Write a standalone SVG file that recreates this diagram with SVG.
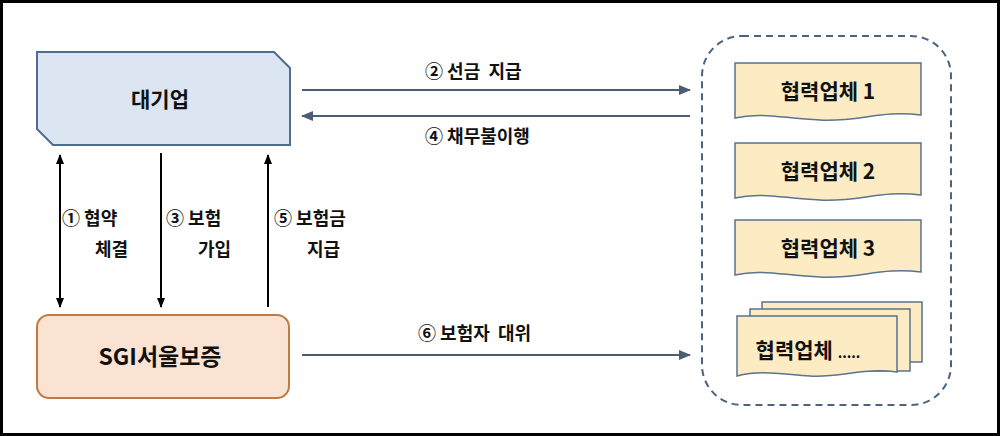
<svg xmlns="http://www.w3.org/2000/svg" width="1000" height="436" viewBox="0 0 1000 436">
<style>
text{font-family:"Noto Sans CJK KR","Liberation Sans",sans-serif;font-weight:bold;fill:#111;white-space:pre}
.n{font-size:21px;text-anchor:middle}
.l{font-size:18px}
.doc{fill:#fdebc3;stroke:#5a7390;stroke-width:1.5}
.c{stroke:#000;stroke-width:2;fill:none}
.h{stroke:#4a5d75;stroke-width:2;fill:none}
</style>
<defs>
<marker id="a" markerWidth="10" markerHeight="8" refX="9" refY="4" orient="auto-start-reverse" markerUnits="userSpaceOnUse"><path d="M0,0L10,4L0,8z" fill="#000"/></marker>
<marker id="b" markerWidth="12" markerHeight="10" refX="11" refY="5" orient="auto-start-reverse" markerUnits="userSpaceOnUse"><path d="M0,0L12,5L0,10z" fill="#4a5d75"/></marker>
</defs>
<rect x="1.5" y="1.5" width="997" height="433" fill="#fff" stroke="#000" stroke-width="3"/>
<g id="n-large">
<path d="M37,52H274L290,68V145H53L37,129Z" fill="#dce6f2" stroke="#4f6d91" stroke-width="2"/>
<text class="n" x="160" y="107">대기업</text>
</g>
<g id="n-sgi">
<rect x="37" y="315" width="252" height="83" rx="12" fill="#fbe3d3" stroke="#c07a45" stroke-width="2"/>
<text class="n" x="160" y="365" style="font-size:23px">SGI서울보증</text>
</g>
<g id="n-group">
<rect x="702" y="36" width="249" height="369" rx="40" fill="none" stroke="#4a6584" stroke-width="2" stroke-dasharray="7,5"/>
</g>
<g id="n-p1">
<path class="doc" d="M735,63H921V115C880,110 860,122 820,120S760,112 735,118Z"/>
<text class="n" x="828" y="99">협력업체 1</text>
</g>
<g id="n-p2">
<path class="doc" d="M735,143H921V195C880,190 860,202 820,200S760,192 735,198Z"/>
<text class="n" x="828" y="179">협력업체 2</text>
</g>
<g id="n-p3">
<path class="doc" d="M735,220H921V272C880,267 860,279 820,277S760,269 735,275Z"/>
<text class="n" x="828" y="256">협력업체 3</text>
</g>
<g id="n-pn">
<rect class="doc" x="762" y="302" width="160" height="60"/>
<rect class="doc" x="750" y="309" width="160" height="62"/>
<path class="doc" d="M737,316H897V372C865,367 840,378 810,376S760,370 737,376Z"/>
<text class="n" x="808" y="358">협력업체 <tspan font-size="14">.....</tspan></text>
</g>
<g id="connectors">
<line class="c" x1="60" y1="155" x2="60" y2="307" marker-start="url(#a)" marker-end="url(#a)"/>
<line class="c" x1="161" y1="153" x2="161" y2="307" marker-end="url(#a)"/>
<line class="c" x1="268" y1="307" x2="268" y2="155" marker-end="url(#a)"/>
<line class="h" x1="302" y1="90" x2="690" y2="90" marker-end="url(#b)"/>
<line class="h" x1="690" y1="116" x2="302" y2="116" marker-end="url(#b)"/>
<line class="h" x1="302" y1="355" x2="690" y2="355" marker-end="url(#b)"/>
</g>
<g id="labels">
<text class="l" x="425" y="78">② 선금  지급</text>
<text class="l" x="425" y="143">④ 채무불이행</text>
<text class="l" x="418" y="340">⑥ 보험자  대위</text>
<text class="l" x="62" y="225">① 협약</text>
<text class="l" x="95" y="256">체결</text>
<text class="l" x="166" y="225">③ 보험</text>
<text class="l" x="198" y="256">가입</text>
<text class="l" x="274" y="225">⑤ 보험금</text>
<text class="l" x="307" y="256">지급</text>
</g>
</svg>
